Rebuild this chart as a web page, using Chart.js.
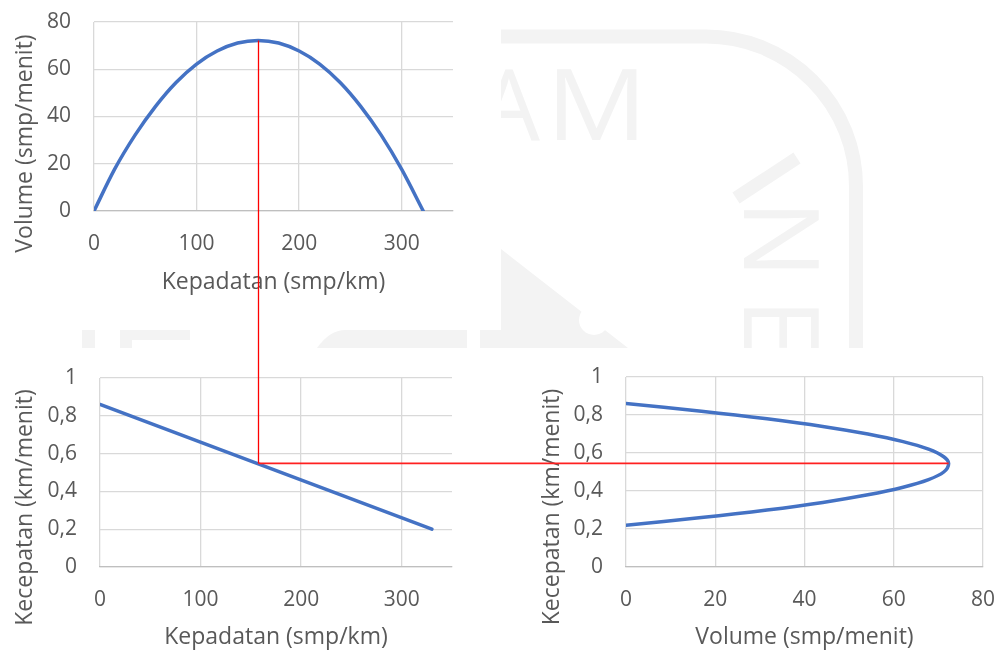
<!DOCTYPE html>
<html>
<head>
<meta charset="utf-8">
<script src="https://cdn.jsdelivr.net/npm/chart.js@4.4.0/dist/chart.umd.min.js"></script>
<style>
  body { margin: 0; background: #fff; }
  #wrap { position: relative; width: 997px; height: 650px; overflow: hidden; background: #fff; }
  canvas, svg, .paper { position: absolute; }
  .paper { background: #fff; }
</style>
</head>
<body>
<div id="wrap">
  <!-- faint logo behind the charts -->
  <svg width="997" height="650" style="left:0;top:0">
    <g fill="#f3f3f3" stroke="none">
      <path d="M501,36.5 H706 A150,150 0 0 1 856,186.5 V348" fill="none" stroke="#f3f3f3" stroke-width="14"/>
      <path d="M501,249 L628,348 L501,348 Z"/>
      <circle cx="594" cy="320" r="15" fill="#fff"/>
      <rect x="480" y="330" width="21" height="18"/>
      <rect x="82" y="330" width="13" height="18"/>
      <rect x="120" y="330" width="70" height="10"/>
      <rect x="120" y="340" width="12" height="8"/>
      <path d="M317,348 Q330,330 345,330 H467 V348 Z"/>
      <line x1="736" y1="198" x2="797" y2="158" stroke="#f3f3f3" stroke-width="13"/>
      <text x="540" y="140" text-anchor="end" font-family="Open Sans" font-size="98">A</text>
      <text transform="translate(546,140) scale(1.15,1)" font-family="Open Sans" font-size="98">M</text>
      <text transform="translate(744,200) rotate(90)" font-family="Open Sans" font-size="104" letter-spacing="20">NE</text>
    </g>
  </svg>
  <div class="paper" style="left:0;top:0;width:501px;height:330px"></div>
  <div class="paper" style="left:0;top:348px;width:997px;height:302px"></div>
  <canvas id="c1" width="480" height="300" style="left:0;top:0"></canvas>
  <canvas id="c2" width="480" height="300" style="left:0;top:350px"></canvas>
  <canvas id="c3" width="477" height="300" style="left:520px;top:350px"></canvas>
  <canvas id="guides" width="997" height="650" style="left:0;top:0;pointer-events:none"></canvas>
</div>
<script>
// volume vs kepadatan (top left)
const kepadatan1 = [0, 20, 40, 60, 80, 100, 120, 140, 160, 180, 200, 220, 240, 260, 280, 300, 321];
const volume1 = [0, 17.6, 32.1, 44.3, 54.4, 62.2, 67.7, 71.1, 72.2, 71.1, 67.7, 62.2, 54.4, 44.3, 32.1, 17.6, 0];

// kecepatan vs kepadatan (bottom left)
const kepadatan2 = [0, 330];
const kecepatan2 = [0.86, 0.2];

// kecepatan vs volume (bottom right)
const volume3 = [0, 16.9, 31.6, 44.1, 54.2, 62.1, 67.8, 71.2, 72.3, 71.2, 67.8, 62.1, 54.2, 44.1, 31.6, 16.9, 0];
const kecepatan3 = [0.86, 0.82, 0.78, 0.74, 0.70, 0.66, 0.62, 0.58, 0.545, 0.50, 0.46, 0.42, 0.38, 0.34, 0.30, 0.26, 0.22];

// [min, max, step]
const ticksVolume = [0, 80, 20];
const ticksKepadatan = [0, 350, 100];
const ticksKecepatan = [0, 1, 0.2];

Chart.defaults.font.family = 'Open Sans';
Chart.defaults.font.size = 21;
Chart.defaults.color = '#595959';
Chart.defaults.animation = false;

const BLUE = '#4472c4';
const GRID = '#d9d9d9';
const NONE = 'rgba(0,0,0,0)';

function pts(xs, ys) {
    return xs.map((x, i) => ({ x: x, y: ys[i] }));
}

function koma(v) {
    return Number(v.toFixed(2)).toString().replace('.', ',');
}

// axis titles, placed like the Excel originals
const axisNames = {
    id: 'axisNames',
    afterDraw(chart, args, o) {
        const ctx = chart.ctx;
        const a = chart.chartArea;
        ctx.save();
        ctx.fillStyle = '#595959';
        ctx.font = '23px "Open Sans"';
        ctx.textAlign = 'center';
        ctx.textBaseline = 'middle';
        ctx.fillText(o.x, (a.left + a.right) / 2, a.bottom + o.xDy);
        ctx.translate(a.left + o.yDx, (a.top + a.bottom) / 2 + o.yDy);
        ctx.rotate(-Math.PI / 2);
        ctx.fillText(o.y, 0, 0);
        ctx.restore();
    }
};

function makeChart(id, data, xr, yr, box, names, smooth) {
    return new Chart(document.getElementById(id), {
        type: 'scatter',
        data: {
            datasets: [{
                data: data,
                showLine: true,
                borderColor: BLUE,
                borderWidth: 3.5,
                borderCapStyle: 'round',
                pointRadius: 0,
                tension: smooth === 'mono' ? 0 : smooth,
                cubicInterpolationMode: smooth === 'mono' ? 'monotone' : 'default'
            }]
        },
        options: {
            responsive: false,
            layout: { padding: { top: box.top, right: box.right, left: 0, bottom: 0 } },
            plugins: { legend: { display: false }, tooltip: { enabled: false }, axisNames: names },
            scales: {
                x: {
                    type: 'linear', min: xr[0], max: xr[1],
                    ticks: { stepSize: xr[2], includeBounds: false, padding: 0, maxRotation: 0, callback: koma },
                    grid: { color: GRID, lineWidth: 1.3, drawTicks: true, tickLength: 20, tickColor: NONE },
                    border: { color: '#bfbfbf', width: 1.3 },
                    afterFit: s => { s.height = box.xh; }
                },
                y: {
                    type: 'linear', min: yr[0], max: yr[1],
                    ticks: { stepSize: yr[2], includeBounds: false, padding: 0, callback: koma },
                    grid: { color: GRID, lineWidth: 1.3, drawTicks: true, tickLength: 23, tickColor: NONE },
                    border: { display: false },
                    afterFit: s => { s.width = box.yw; }
                }
            }
        },
        plugins: [axisNames]
    });
}

const ch1 = makeChart('c1', pts(kepadatan1, volume1), ticksKepadatan, ticksVolume,
    { top: 22, right: 27, yw: 94, xh: 89 },
    { x: 'Kepadatan (smp/km)', y: 'Volume (smp/menit)', xDy: 71, yDx: -69, yDy: 27 }, 'mono');

const ch2 = makeChart('c2', pts(kepadatan2, kecepatan2), ticksKepadatan, ticksKecepatan,
    { top: 28, right: 28, yw: 100, xh: 83 },
    { x: 'Kepadatan (smp/km)', y: 'Kecepatan (km/menit)', xDy: 70, yDx: -75, yDy: 35 }, 0);

const ch3 = makeChart('c3', pts(volume3, kecepatan3), ticksVolume, ticksKecepatan,
    { top: 27, right: 14, yw: 106, xh: 83 },
    { x: 'Volume (smp/menit)', y: 'Kecepatan (km/menit)', xDy: 70, yDx: -74, yDy: 35 }, 0.35);

// red guide lines from the top of the parabola to the nose of the speed-volume curve
function drawGuides() {
    const c1 = document.getElementById('c1');
    const c3 = document.getElementById('c3');
    const g = document.getElementById('guides').getContext('2d');
    const i1 = volume1.indexOf(Math.max(...volume1));
    const i3 = volume3.indexOf(Math.max(...volume3));
    const x = Math.round(c1.offsetLeft + ch1.scales.x.getPixelForValue(kepadatan1[i1])) + 0.5;
    const yTop = c1.offsetTop + ch1.scales.y.getPixelForValue(volume1[i1]);
    const yMid = c3.offsetTop + ch3.scales.y.getPixelForValue(kecepatan3[i3]);
    const xEnd = c3.offsetLeft + ch3.scales.x.getPixelForValue(volume3[i3]);
    g.strokeStyle = '#ff0000';
    g.lineWidth = 1.3;
    g.beginPath();
    g.moveTo(x, yTop);
    g.lineTo(x, yMid);
    g.stroke();
    g.strokeStyle = '#ff2020';
    g.lineWidth = 1.8;
    g.beginPath();
    g.moveTo(x, yMid);
    g.lineTo(xEnd, yMid);
    g.stroke();
}
drawGuides();
</script>
</body>
</html>
